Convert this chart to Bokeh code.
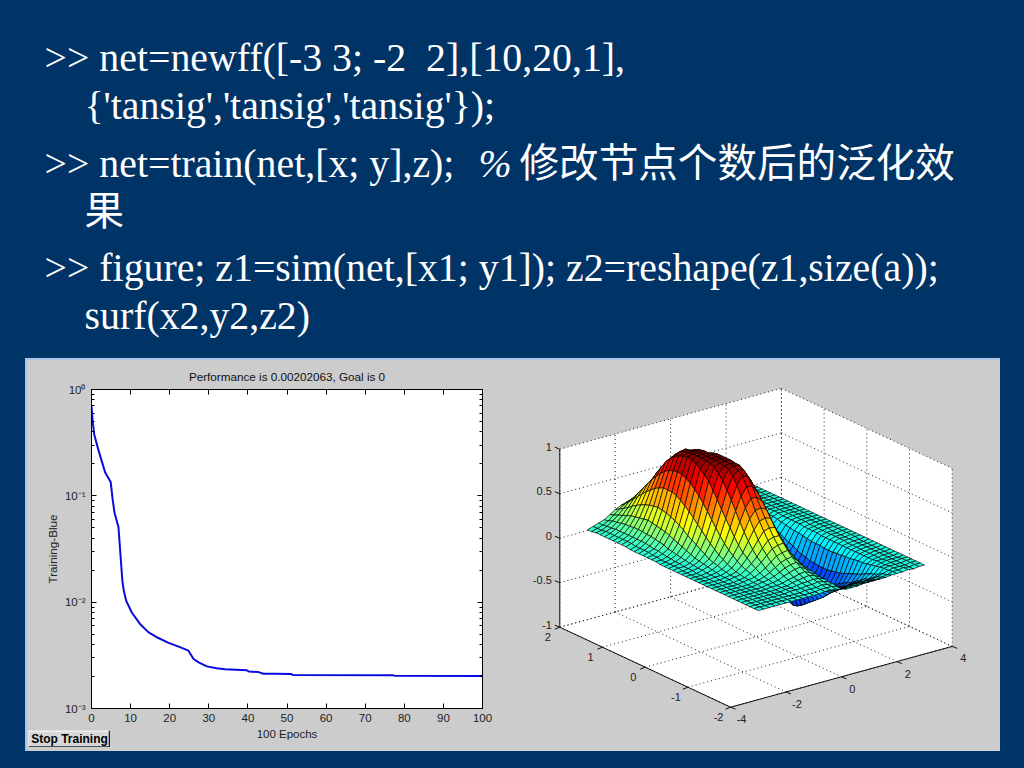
from bokeh.plotting import figure
from bokeh.layouts import column, row
from bokeh.models import ColumnDataSource, LinearAxis, LogAxis, Spacer, FixedTicker, LogTicker
from bokeh.core.properties import value
from bokeh.embed import file_html
from bokeh.resources import INLINE
import numpy as np

NAVY = "#003366"
GREY = "#cccccc"
EDGE = "#a9c6e8"

# ---- slide text -------------------------------------------------------
slide_lines = [
    ">> net=newff([-3 3; -2\u00a0\u00a02],[10,20,1],",
    "{'tansig','tansig','tansig'});",
    ">> net=train(net,[x; y],z);",
    ">> figure; z1=sim(net,[x1; y1]); z2=reshape(z1,size(a));",
    "surf(x2,y2,z2)",
]
slide_x = [44, 84, 44, 44, 84]
slide_y = [57, 105, 163, 267, 315]
percent_text = "%"
cjk_line1 = "修改节点个数后的泛化效"
cjk_line2 = "果"

# ---- training record ---------------------------------------------------
epochs = [0, 0.26, 0.68, 1.6, 2.6, 3.5, 4.9, 5.4, 5.9, 6.9, 7.3, 7.9, 8.27, 8.87, 10.3, 12.4, 14.6,
          17.1, 19.7, 22.3, 24.8, 26.1, 27.4, 29.5, 32, 34.2, 39.7, 40.2, 42.7, 44, 47, 51, 51.5, 77, 77.5, 100]
perf = [0.70, 0.523, 0.38, 0.284, 0.213, 0.166, 0.135, 0.093, 0.069, 0.0506, 0.0316, 0.0158, 0.0128,
        0.0103, 0.0080, 0.00624, 0.0052, 0.0046, 0.00414, 0.00382, 0.0035, 0.00292, 0.00272, 0.00249,
        0.00239, 0.00234, 0.00229, 0.00223, 0.0022, 0.00212, 0.00212, 0.00211, 0.00207, 0.00206, 0.00203, 0.00202]
perf_title = "Performance is 0.00202063, Goal is 0"
perf_xlabel = "100 Epochs"
perf_ylabel = "Training-Blue"
perf_xticks = [0, 10, 20, 30, 40, 50, 60, 70, 80, 90, 100]
perf_yticks = [1, 0.1, 0.01, 0.001]
perf_yexp = ["0", "-1", "-2", "-3"]
button_text = "Stop Training"

# ---- surface, one list per x, y running from -2 to 2 in steps of 0.1 ----
x_grid = [-3, -2.8, -2.6, -2.4, -2.2, -2, -1.8, -1.6, -1.4, -1.2, -1, -0.8, -0.6, -0.4, -0.2, 0,
          0.2, 0.4, 0.6, 0.8, 1, 1.2, 1.4, 1.6, 1.8, 2, 2.2, 2.4, 2.6, 2.8, 3]
y_grid = [-2, -1.9, -1.8, -1.7, -1.6, -1.5, -1.4, -1.3, -1.2, -1.1, -1, -.9, -.8, -.7, -.6, -.5, -.4, -.3, -.2, -.1,
          0, .1, .2, .3, .4, .5, .6, .7, .8, .9, 1, 1.1, 1.2, 1.3, 1.4, 1.5, 1.6, 1.7, 1.8, 1.9, 2]
z_cols = [
 [0]*24+[.01,.01,.01,.01,.01,.01,.01,.02,.02,.02,.02,.02,.02,.02,.02,.01,.01],
 [0]*20+[.01,.01,.01,.01,.01,.02,.02,.03,.03,.03,.03,.04,.04,.04,.04,.04,.04,.04,.03,.03,.03],
 [0]*18+[.01,.01,.01,.02,.02,.03,.03,.04,.05,.05,.06,.07,.07,.07,.07,.07,.07,.07,.07,.06,.06,.05,.05],
 [0]*14+[.01,.01,.01,.02,.02,.03,.03,.04,.05,.06,.07,.08,.10,.11,.12,.13,.13,.14,.14,.14,.13,.13,.12,.11,.10,.08,.07],
 [0]*12+[.01,.01,.01,.02,.03,.04,.05,.06,.07,.09,.11,.13,.15,.17,.19,.21,.22,.23,.24,.25,.24,.23,.22,.21,.19,.17,.15,.13,.11],
 [0]*10+[.01,.01,.02,.02,.03,.04,.06,.07,.09,.12,.15,.18,.21,.24,.28,.31,.34,.36,.38,.39,.40,.39,.38,.36,.34,.31,.28,.24,.21,.18,.15],
 [0]*8+[.01,.01,.02,.02,.03,.04,.06,.08,.11,.14,.18,.22,.27,.32,.37,.42,.47,.51,.55,.58,.60,.60,.60,.58,.55,.51,.47,.42,.37,.32,.27,.22,.18],
 [0]*6+[.01,.01,.02,.02,.03,.05,.07,.09,.12,.16,.20,.25,.31,.38,.45,.52,.59,.65,.70,.75,.78,.80,.81,.80,.78,.75,.70,.65,.59,.52,.45,.38,.31,.25,.20],
 [0,0,0,.01,.01,.01,.01,.02,.03,.04,.06,.09,.12,.16,.20,.26,.33,.41,.49,.57,.66,.74,.82,.87,.92,.95,.97,.98,.97,.95,.92,.87,.82,.74,.66,.57,.49,.41,.33,.26,.20],
 [0,0,0,.01,.01,.01,.02,.03,.05,.07,.10,.14,.18,.24,.31,.39,.48,.58,.68,.77,.85,.91,.96,.98,.99,1,1,1,.99,.98,.96,.91,.85,.77,.68,.58,.48,.39,.31,.24,.18],
 [0,0,.01,.01,.02,.03,.04,.06,.08,.11,.15,.20,.26,.33,.42,.52,.62,.73,.83,.91,.97,.98,.99,1,1,1,1,1,.99,.98,.97,.91,.83,.73,.62,.52,.42,.33,.26,.20,.15],
 [0,0,.01,.02,.03,.04,.05,.08,.11,.15,.20,.26,.33,.41,.50,.60,.71,.82,.92,.96,.99,.99,1,1,1,1,1,1,.99,.97,.93,.83,.71,.60,.50,.41,.33,.26,.20,.15,.11],
 [.01,.01,.01,.02,.03,.05,.07,.10,.13,.17,.22,.28,.35,.43,.52,.61,.71,.81,.90,.95,.98,.98,.99,.99,.99,.99,.98,.95,.90,.81,.71,.61,.52,.43,.35,.28,.22,.17,.13,.10,.07],
 [.01,.01,.02,.03,.04,.06,.08,.11,.14,.18,.23,.29,.35,.42,.50,.58,.65,.72,.78,.84,.88,.91,.93,.92,.90,.85,.80,.72,.64,.55,.47,.40,.33,.27,.21,.16,.12,.09,.07,.05,.03],
 [0,.01,.01,.02,.03,.04,.05,.07,.09,.12,.15,.19,.24,.30,.36,.43,.50,.58,.65,.72,.78,.82,.84,.83,.80,.75,.68,.59,.50,.41,.33,.26,.20,.15,.11,.08,.06,.04,.03,.02,.01],
 [-.01,-.01,0,0,.01,.01,.02,.03,.04,.05,.07,.09,.12,.16,.20,.26,.32,.39,.46,.53,.60,.63,.65,.63,.60,.53,.45,.37,.28,.21,.15,.11,.07,.05,.03,.02,.01,.01,0,0,0],
 [-.03,-.05,-.08,-.11,-.14,-.17,-.20,-.22,-.24,-.25,-.26,-.26,-.25,-.23,-.20,-.16,-.12,-.07,-.02,.03,.08,.10,.12,.11,.10,.07,.04,.01,-.01,-.02,-.03,-.03,-.03,-.03,-.02,-.02,-.01,-.01,0,0,0],
 [-.03,-.05,-.08,-.12,-.16,-.20,-.25,-.30,-.34,-.38,-.42,-.46,-.50,-.53,-.54,-.52,-.48,-.43,-.38,-.32,-.27,-.23,-.20,-.18,-.16,-.14,-.13,-.11,-.10,-.08,-.07,-.06,-.05,-.04,-.03,-.02,-.01,-.01,0,0,0],
 [-.03,-.05,-.07,-.11,-.15,-.19,-.23,-.28,-.32,-.36,-.41,-.45,-.49,-.53,-.56,-.56,-.55,-.53,-.50,-.46,-.42,-.38,-.34,-.30,-.26,-.22,-.18,-.15,-.12,-.10,-.08,-.06,-.05,-.04,-.03,-.02,-.01,-.01,0,0,0],
 [-.02,-.05,-.07,-.11,-.15,-.18,-.22,-.26,-.30,-.34,-.38,-.42,-.46,-.49,-.51,-.52,-.52,-.51,-.50,-.48,-.45,-.42,-.38,-.34,-.30,-.26,-.22,-.18,-.14,-.11,-.09,-.07,-.05,-.04,-.03,-.02,-.01,-.01,0,0,0],
 [-.02,-.05,-.07,-.11,-.15,-.18,-.22,-.26,-.30,-.33,-.37,-.40,-.43,-.45,-.47,-.48,-.48,-.48,-.47,-.46,-.44,-.41,-.38,-.34,-.30,-.26,-.22,-.18,-.14,-.11,-.09,-.07,-.05,-.04,-.03,-.02,-.01,-.01,0,0,0],
 [-.02,-.05,-.07,-.11,-.15,-.17,-.21,-.25,-.29,-.32,-.36,-.39,-.42,-.44,-.46,-.47,-.47,-.47,-.46,-.45,-.43,-.40,-.37,-.33,-.29,-.25,-.21,-.17,-.14,-.11,-.09,-.07,-.05,-.04,-.03,-.02,-.01,-.01,0,0,0],
 [-.02,-.05,-.07,-.10,-.14,-.17,-.20,-.24,-.28,-.31,-.34,-.37,-.40,-.42,-.44,-.45,-.45,-.45,-.44,-.43,-.41,-.38,-.35,-.32,-.28,-.24,-.20,-.17,-.13,-.10,-.08,-.07,-.05,-.04,-.03,-.02,-.01,-.01,0,0,0],
 [-.02,-.04,-.06,-.09,-.13,-.15,-.19,-.22,-.26,-.28,-.31,-.34,-.37,-.38,-.40,-.41,-.41,-.41,-.40,-.39,-.37,-.35,-.32,-.29,-.26,-.22,-.19,-.15,-.12,-.09,-.08,-.06,-.04,-.03,-.03,-.02,-.01,-.01,0,0,0],
 [-.01,-.03,-.04,-.07,-.09,-.11,-.13,-.16,-.18,-.20,-.22,-.24,-.26,-.27,-.28,-.29,-.29,-.29,-.28,-.28,-.26,-.25,-.23,-.20,-.18,-.16,-.13,-.11,-.08,-.07,-.05,-.04,-.03,-.02,-.02,-.01,-.01,0,0,0,0],
 [-.01,-.01,-.02,-.02,-.03,-.04,-.05,-.06,-.07,-.07,-.08,-.09,-.09,-.10,-.10,-.11,-.11,-.11,-.10,-.10,-.10,-.09,-.08,-.07,-.07,-.06,-.05,-.04,-.03,-.02,-.02,-.02,-.01,-.01,-.01,0,0,0,0,0,0],
 [-.01]*4+[-.02]*3+[-.03]*13+[-.02]*4+[-.01]*5+[0]*12,
 [0]*2+[-.01]*4+[-.02]*9+[-.01]*9+[0]*17,
 [-.01]*20+[0]*21,
 [0]*5+[-.01]*10+[0]*26,
 [0]*41,
]
x_ticks3 = [-4, -2, 0, 2, 4]
y_ticks3 = [2, 1, 0, -1, -2]
z_ticks3 = [1, 0.5, 0, -0.5, -1]
z_labels3 = ["1", "0.5", "0", "-0.5", "-1"]

SERIF = value("Liberation Serif")
SANS = "Liberation Sans"

# ---- top part ----------------------------------------------------------
top = figure(width=1024, height=358, x_range=(0, 1024), y_range=(358, 0), output_backend="svg",
             toolbar_location=None, x_axis_type=None, y_axis_type=None, min_border=0,
             background_fill_color=NAVY, border_fill_color=NAVY, outline_line_color=None)
top.grid.visible = False
top.text(x=slide_x, y=slide_y, text=slide_lines, text_color="white", text_font=SERIF,
         text_font_size="39.8px", text_baseline="alphabetic")
top.text(x=[478], y=[163], text=[percent_text], text_color="white", text_font=SERIF,
         text_font_style="italic", text_font_size="39.8px", text_baseline="alphabetic")
cjk = value("Noto Sans CJK SC")
top.text(x=[519, 84], y=[159, 207], text=[cjk_line1, cjk_line2], text_color="white", text_font=cjk,
         text_font_size="39.6px", text_baseline="alphabetic")

# ---- training plot -----------------------------------------------------
tr = figure(width=478, height=391, x_range=(0, 100), y_range=(1e-3, 1), y_axis_type="log",
            output_backend="svg", toolbar_location=None, min_border_left=64, min_border_right=23,
            min_border_top=28, min_border_bottom=43, background_fill_color="white",
            border_fill_color=GREY, outline_line_color="black")
tr.grid.visible = False
tr.line(epochs, perf, line_color="#0a0ae0", line_width=2)
tr.title.text = perf_title
tr.title.align = "center"
tr.title.text_font = SANS
tr.title.text_font_size = "11.7px"
tr.title.text_font_style = "normal"
tr.title.text_color = "#111111"
tr.title.text_line_height = 0.85
tr.title.standoff = 14

xa = tr.xaxis[0]
xa.ticker = FixedTicker(ticks=perf_xticks)
xa.major_tick_in, xa.major_tick_out = 5, 0
xa.minor_tick_line_color = None
xa.major_label_text_font = SANS
xa.major_label_text_font_size = "11.5px"
xa.major_label_text_color = "#222222"
xa.major_label_standoff = 5
xa.axis_label = perf_xlabel
xa.axis_label_text_font = SANS
xa.axis_label_text_font_size = "11.5px"
xa.axis_label_text_font_style = "normal"
xa.axis_label_text_color = "#222222"
xa.axis_label_standoff = 3

ya = tr.yaxis[0]
ya.major_tick_in, ya.major_tick_out = 5, 0
ya.minor_tick_in, ya.minor_tick_out = 3, 0
ya.major_label_overrides = {t: "10" + "".join({"0": "⁰", "1": "¹", "2": "²", "3": "³", "-": "⁻"}[c] for c in e)
                            for t, e in zip(perf_yticks, perf_yexp)}
ya.major_label_text_font = SANS
ya.major_label_text_font_size = "11.5px"
ya.major_label_text_color = "#222222"
ya.major_label_standoff = 6
ya.axis_label = perf_ylabel
ya.axis_label_text_font = SANS
ya.axis_label_text_font_size = "11.7px"
ya.axis_label_text_font_style = "normal"
ya.axis_label_text_color = "#222222"
ya.axis_label_standoff = 3

top_ax = LinearAxis(ticker=FixedTicker(ticks=perf_xticks), major_tick_in=5, major_tick_out=0,
                    minor_tick_line_color=None, major_label_text_color=None, major_label_text_font_size="0px")
right_ax = LogAxis(ticker=LogTicker(num_minor_ticks=10), major_tick_in=5, major_tick_out=0, minor_tick_in=3,
                   minor_tick_out=0, major_label_text_color=None, major_label_text_font_size="0px")
tr.add_layout(top_ax, "above")
tr.add_layout(right_ax, "right")

# raised push button laid over the lower left corner of the panel
btn = figure(width=82, height=17, x_range=(0, 82), y_range=(17, 0), x_axis_type=None, y_axis_type=None,
             output_backend="svg", toolbar_location=None, min_border=0, background_fill_color="#d8d8d8",
             border_fill_color="#d8d8d8", outline_line_color=None)
btn.grid.visible = False
btn.multi_line([[0, 0, 82], [0, 81, 81]], [[17, 0.5, 0.5], [16.5, 16.5, 0]], line_color=["#f4f4f4", "#222222"],
               line_width=1.5)
btn.text(x=[41], y=[8.5], text=[button_text], text_align="center", text_baseline="middle", text_font=value(SANS),
         text_font_style="bold", text_font_size="12px", text_color="black")

# ---- surface plot ------------------------------------------------------
sf = figure(width=495, height=391, x_range=(505, 1000), y_range=(751, 360), x_axis_type=None, y_axis_type=None,
            output_backend="svg", toolbar_location=None, min_border=0, background_fill_color=GREY,
            border_fill_color=GREY, outline_line_color=None)
sf.grid.visible = False


def proj(x, y, z):
    """orthographic view of the axes box, in the plot's range units"""
    x, y, z = np.asarray(x, float), np.asarray(y, float), np.asarray(z, float)
    sx = 559.3 + (x + 4) * 27.7 + (2 - y) * 42.7
    sy = 626.7 - (x + 4) * 7.6 + (2 - y) * 20.0 - (z + 1) * 89.0
    return sx, sy


def seg(a, b):
    ax, ay = proj(*a)
    bx, by = proj(*b)
    return [float(ax), float(bx)], [float(ay), float(by)]


# walls
walls = [[(-4, 2, -1), (4, 2, -1), (4, 2, 1), (-4, 2, 1)],
         [(4, 2, -1), (4, -2, -1), (4, -2, 1), (4, 2, 1)],
         [(-4, 2, -1), (4, 2, -1), (4, -2, -1), (-4, -2, -1)]]
wx, wy = [], []
for w in walls:
    a = np.array(w)
    sx, sy = proj(a[:, 0], a[:, 1], a[:, 2])
    wx.append(sx.tolist())
    wy.append(sy.tolist())
sf.patches(wx, wy, fill_color="white", line_color=None)

# dotted grid
gx, gy = [], []
for xt in x_ticks3:
    for a, b in [((xt, 2, -1), (xt, -2, -1)), ((xt, 2, -1), (xt, 2, 1))]:
        s = seg(a, b); gx.append(s[0]); gy.append(s[1])
for yt in y_ticks3:
    for a, b in [((-4, yt, -1), (4, yt, -1)), ((4, yt, -1), (4, yt, 1))]:
        s = seg(a, b); gx.append(s[0]); gy.append(s[1])
for zt in z_ticks3:
    for a, b in [((-4, 2, zt), (4, 2, zt)), ((4, 2, zt), (4, -2, zt))]:
        s = seg(a, b); gx.append(s[0]); gy.append(s[1])
sf.multi_line(gx, gy, line_color="#222222", line_width=1, line_dash="1 3")

# surface, far cells first
Z = np.array(z_cols, dtype=float)
XG = np.array(x_grid)
YG = np.array(y_grid)
JET_P = [0, .125, .375, .625, .875, 1]
JET_R = [0, 0, 0, 255, 255, 128]
JET_G = [0, 0, 255, 255, 0, 0]
JET_B = [128, 255, 255, 0, 0, 0]
ZMIN, ZMAX = -0.68, 1.0
xs, ys, cols = [], [], []
for i in range(len(x_grid) - 2, -1, -1):
    for j in range(len(y_grid) - 2, -1, -1):
        cx = [XG[i], XG[i + 1], XG[i + 1], XG[i]]
        cy = [YG[j], YG[j], YG[j + 1], YG[j + 1]]
        cz = [Z[i, j], Z[i + 1, j], Z[i + 1, j + 1], Z[i, j + 1]]
        sx, sy = proj(cx, cy, cz)
        t = (np.mean(cz) - ZMIN) / (ZMAX - ZMIN)
        r, g, b = np.interp(t, JET_P, JET_R), np.interp(t, JET_P, JET_G), np.interp(t, JET_P, JET_B)
        xs.append(sx.tolist())
        ys.append(sy.tolist())
        cols.append("#%02x%02x%02x" % (int(r), int(g), int(b)))
sf.patches("xs", "ys", fill_color="cols", line_color="#000000", line_width=0.75, line_alpha=0.9,
           source=ColumnDataSource(dict(xs=xs, ys=ys, cols=cols)))

# axes
ax_x, ax_y = [], []
for a, b in [((-4, 2, -1), (-4, 2, 1)), ((-4, 2, -1), (-4, -2, -1)), ((-4, -2, -1), (4, -2, -1))]:
    s = seg(a, b); ax_x.append(s[0]); ax_y.append(s[1])
sf.multi_line(ax_x, ax_y, line_color="#111111", line_width=1)

tx, ty = [], []
for zt in z_ticks3:
    a, b = proj(-4, 2, zt)
    tx.append([float(a) - 5, float(a)]); ty.append([float(b) - 2, float(b)])
for yt in y_ticks3:
    a, b = proj(-4, yt, -1)
    tx.append([float(a) - 5, float(a)]); ty.append([float(b) + 2, float(b)])
for xt in x_ticks3:
    a, b = proj(xt, -2, -1)
    tx.append([float(a), float(a) + 5]); ty.append([float(b), float(b) + 2])
sf.multi_line(tx, ty, line_color="#111111", line_width=1)

zx, zy = proj([-4] * 5, [2] * 5, z_ticks3)
sf.text(zx - 8, zy - 2.5, text=z_labels3, text_align="right", text_baseline="middle", text_font=value(SANS),
        text_font_size="11px", text_color="#222222")
yx, yy = proj([-4] * 5, y_ticks3, [-1] * 5)
sf.text(yx - 12, yy + 10, text=[str(v) for v in y_ticks3], text_align="center", text_baseline="middle",
        text_font=value(SANS), text_font_size="11px", text_color="#222222")
xx, xy = proj(x_ticks3, [-2] * 5, [-1] * 5)
sf.text(xx + 11, xy + 12, text=[str(v) for v in x_ticks3], text_align="center", text_baseline="middle",
        text_font=value(SANS), text_font_size="11px", text_color="#222222")

# ---- page --------------------------------------------------------------
strip = row(Spacer(width=25, height=2), Spacer(width=975, height=2, styles={"background-color": EDGE}),
            Spacer(width=24, height=2), spacing=0)
panel = row(Spacer(width=27, height=391, styles={"background-color": NAVY, "border-right": f"2px solid {EDGE}",
                                                 "box-sizing": "border-box"}),
            column(tr, column(btn, margin=(-21, 0, 4, 1)), spacing=0), column(sf, spacing=0),
            Spacer(width=24, height=391, styles={"background-color": NAVY}), spacing=0,
            styles={"background-color": GREY})
page = column(top, strip, panel, Spacer(width=1024, height=17), spacing=0,
              styles={"background-color": NAVY, "position": "absolute", "left": "0px", "top": "0px"})

open("out.html", "w").write(file_html(page, INLINE))
